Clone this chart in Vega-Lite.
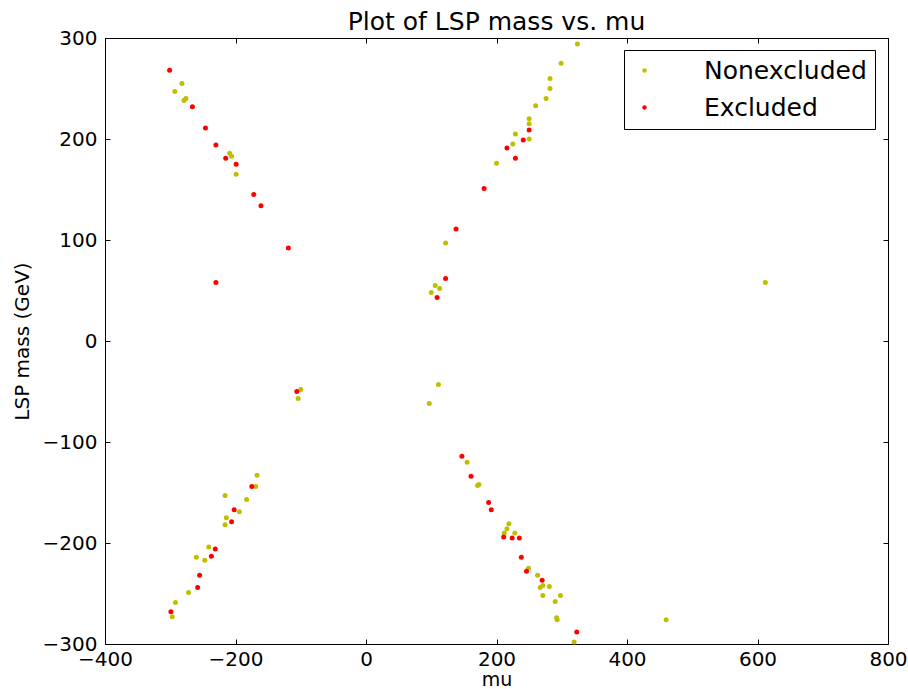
{
  "$schema": "https://vega.github.io/schema/vega-lite/v6.json",
  "autosize": "none",
  "width": 783,
  "height": 606,
  "padding": {"left": 105, "top": 38, "right": 20, "bottom": 45},
  "background": "white",
  "title": {"text": "Plot of LSP mass vs. mu", "fontSize": 25, "font": "DejaVu Sans", "fontWeight": "normal", "color": "black", "offset": -7},
  "config": {
    "view": {"stroke": "black", "strokeWidth": 1},
    "font": "DejaVu Sans",
    "axis": {"grid": false, "domain": false, "tickColor": "black", "tickSize": -5, "tickWidth": 1, "labelFlush": false, "labelOverlap": false, "labelColor": "black", "labelFontSize": 20, "labelFont": "DejaVu Sans", "titleFont": "DejaVu Sans", "titleFontSize": 20, "titleFontWeight": "normal", "titleColor": "black"}
  },
  "data": {"values": [
    {"mu": -282, "mass": 255, "status": "Nonexcluded"},
    {"mu": -293, "mass": 247, "status": "Nonexcluded"},
    {"mu": -279, "mass": 238, "status": "Nonexcluded"},
    {"mu": -276, "mass": 240, "status": "Nonexcluded"},
    {"mu": -209, "mass": 186, "status": "Nonexcluded"},
    {"mu": -206, "mass": 183, "status": "Nonexcluded"},
    {"mu": -199, "mass": 165, "status": "Nonexcluded"},
    {"mu": 324, "mass": 294, "status": "Nonexcluded"},
    {"mu": 299, "mass": 275, "status": "Nonexcluded"},
    {"mu": 282, "mass": 260, "status": "Nonexcluded"},
    {"mu": 282, "mass": 250, "status": "Nonexcluded"},
    {"mu": 276, "mass": 240, "status": "Nonexcluded"},
    {"mu": 260, "mass": 233, "status": "Nonexcluded"},
    {"mu": 250, "mass": 220, "status": "Nonexcluded"},
    {"mu": 250, "mass": 215, "status": "Nonexcluded"},
    {"mu": 229, "mass": 205, "status": "Nonexcluded"},
    {"mu": 250, "mass": 200, "status": "Nonexcluded"},
    {"mu": 225, "mass": 195, "status": "Nonexcluded"},
    {"mu": 200, "mass": 176, "status": "Nonexcluded"},
    {"mu": 122, "mass": 97, "status": "Nonexcluded"},
    {"mu": 106, "mass": 55, "status": "Nonexcluded"},
    {"mu": 113, "mass": 52, "status": "Nonexcluded"},
    {"mu": 100, "mass": 48, "status": "Nonexcluded"},
    {"mu": 612, "mass": 58, "status": "Nonexcluded"},
    {"mu": -100, "mass": -48, "status": "Nonexcluded"},
    {"mu": -104, "mass": -57, "status": "Nonexcluded"},
    {"mu": 111, "mass": -43, "status": "Nonexcluded"},
    {"mu": 97, "mass": -62, "status": "Nonexcluded"},
    {"mu": -167, "mass": -133, "status": "Nonexcluded"},
    {"mu": -169, "mass": -144, "status": "Nonexcluded"},
    {"mu": -216, "mass": -153, "status": "Nonexcluded"},
    {"mu": -183, "mass": -157, "status": "Nonexcluded"},
    {"mu": -194, "mass": -169, "status": "Nonexcluded"},
    {"mu": -214, "mass": -175, "status": "Nonexcluded"},
    {"mu": -216, "mass": -182, "status": "Nonexcluded"},
    {"mu": -241, "mass": -204, "status": "Nonexcluded"},
    {"mu": -260, "mass": -214, "status": "Nonexcluded"},
    {"mu": -247, "mass": -217, "status": "Nonexcluded"},
    {"mu": -272, "mass": -249, "status": "Nonexcluded"},
    {"mu": -292, "mass": -259, "status": "Nonexcluded"},
    {"mu": -297, "mass": -273, "status": "Nonexcluded"},
    {"mu": 155, "mass": -120, "status": "Nonexcluded"},
    {"mu": 171, "mass": -143, "status": "Nonexcluded"},
    {"mu": 173, "mass": -142, "status": "Nonexcluded"},
    {"mu": 219, "mass": -181, "status": "Nonexcluded"},
    {"mu": 216, "mass": -186, "status": "Nonexcluded"},
    {"mu": 212, "mass": -190, "status": "Nonexcluded"},
    {"mu": 228, "mass": -190, "status": "Nonexcluded"},
    {"mu": 249, "mass": -225, "status": "Nonexcluded"},
    {"mu": 263, "mass": -232, "status": "Nonexcluded"},
    {"mu": 271, "mass": -242, "status": "Nonexcluded"},
    {"mu": 267, "mass": -244, "status": "Nonexcluded"},
    {"mu": 281, "mass": -243, "status": "Nonexcluded"},
    {"mu": 298, "mass": -252, "status": "Nonexcluded"},
    {"mu": 271, "mass": -252, "status": "Nonexcluded"},
    {"mu": 290, "mass": -258, "status": "Nonexcluded"},
    {"mu": 292, "mass": -274, "status": "Nonexcluded"},
    {"mu": 293, "mass": -276, "status": "Nonexcluded"},
    {"mu": 319, "mass": -298, "status": "Nonexcluded"},
    {"mu": 460, "mass": -276, "status": "Nonexcluded"},
    {"mu": -301, "mass": 268, "status": "Excluded"},
    {"mu": -266, "mass": 232, "status": "Excluded"},
    {"mu": -246, "mass": 211, "status": "Excluded"},
    {"mu": -230, "mass": 194, "status": "Excluded"},
    {"mu": -215, "mass": 181, "status": "Excluded"},
    {"mu": -199, "mass": 175, "status": "Excluded"},
    {"mu": -172, "mass": 145, "status": "Excluded"},
    {"mu": -161, "mass": 134, "status": "Excluded"},
    {"mu": -119, "mass": 92, "status": "Excluded"},
    {"mu": -230, "mass": 58, "status": "Excluded"},
    {"mu": 250, "mass": 209, "status": "Excluded"},
    {"mu": 241, "mass": 199, "status": "Excluded"},
    {"mu": 216, "mass": 191, "status": "Excluded"},
    {"mu": 229, "mass": 181, "status": "Excluded"},
    {"mu": 181, "mass": 151, "status": "Excluded"},
    {"mu": 138, "mass": 111, "status": "Excluded"},
    {"mu": 122, "mass": 62, "status": "Excluded"},
    {"mu": 109, "mass": 43, "status": "Excluded"},
    {"mu": -106, "mass": -50, "status": "Excluded"},
    {"mu": -175, "mass": -144, "status": "Excluded"},
    {"mu": -202, "mass": -167, "status": "Excluded"},
    {"mu": -206, "mass": -179, "status": "Excluded"},
    {"mu": -231, "mass": -206, "status": "Excluded"},
    {"mu": -237, "mass": -213, "status": "Excluded"},
    {"mu": -255, "mass": -232, "status": "Excluded"},
    {"mu": -258, "mass": -244, "status": "Excluded"},
    {"mu": -299, "mass": -268, "status": "Excluded"},
    {"mu": 147, "mass": -114, "status": "Excluded"},
    {"mu": 161, "mass": -134, "status": "Excluded"},
    {"mu": 188, "mass": -160, "status": "Excluded"},
    {"mu": 192, "mass": -167, "status": "Excluded"},
    {"mu": 211, "mass": -194, "status": "Excluded"},
    {"mu": 224, "mass": -195, "status": "Excluded"},
    {"mu": 235, "mass": -195, "status": "Excluded"},
    {"mu": 238, "mass": -214, "status": "Excluded"},
    {"mu": 246, "mass": -228, "status": "Excluded"},
    {"mu": 270, "mass": -237, "status": "Excluded"},
    {"mu": 323, "mass": -288, "status": "Excluded"}
  ]},
  "layer": [
    {
      "mark": {"type": "point", "filled": true, "opacity": 1, "size": 25, "shape": "circle"},
      "encoding": {
        "x": {"field": "mu", "type": "quantitative", "scale": {"domain": [-400, 800], "nice": false, "zero": false}, "axis": {"title": "mu", "titleFontSize": 19, "values": [-400, -200, 0, 200, 400, 600, 800], "labelPadding": 10, "titlePadding": 1}},
        "y": {"field": "mass", "type": "quantitative", "scale": {"domain": [-300, 300], "nice": false, "zero": false}, "axis": {"title": "LSP mass (GeV)", "values": [-300, -200, -100, 0, 100, 200, 300], "labelPadding": 13, "titlePadding": 10}},
        "color": {"field": "status", "type": "nominal", "scale": {"domain": ["Nonexcluded", "Excluded"], "range": ["#bfbf00", "#ff0000"]},
          "legend": {"title": null, "orient": "none", "legendX": 519, "legendY": 12, "strokeColor": "black", "fillColor": "white", "padding": 8, "labelFontSize": 25, "labelLimit": 400, "labelFont": "DejaVu Sans", "labelColor": "black", "symbolSize": 20, "symbolType": "circle", "symbolStrokeWidth": 0, "labelOffset": 47, "rowPadding": 11, "cornerRadius": 0}}
      }
    },
    {
      "mark": {"type": "point", "opacity": 0},
      "encoding": {
        "x": {"field": "mu", "type": "quantitative", "axis": {"orient": "top", "labels": false, "title": null, "values": [-400, -200, 0, 200, 400, 600, 800]}},
        "y": {"field": "mass", "type": "quantitative", "axis": {"orient": "right", "labels": false, "title": null, "values": [-300, -200, -100, 0, 100, 200, 300]}}
      }
    }
  ],
  "resolve": {"axis": {"x": "independent", "y": "independent"}}
}
